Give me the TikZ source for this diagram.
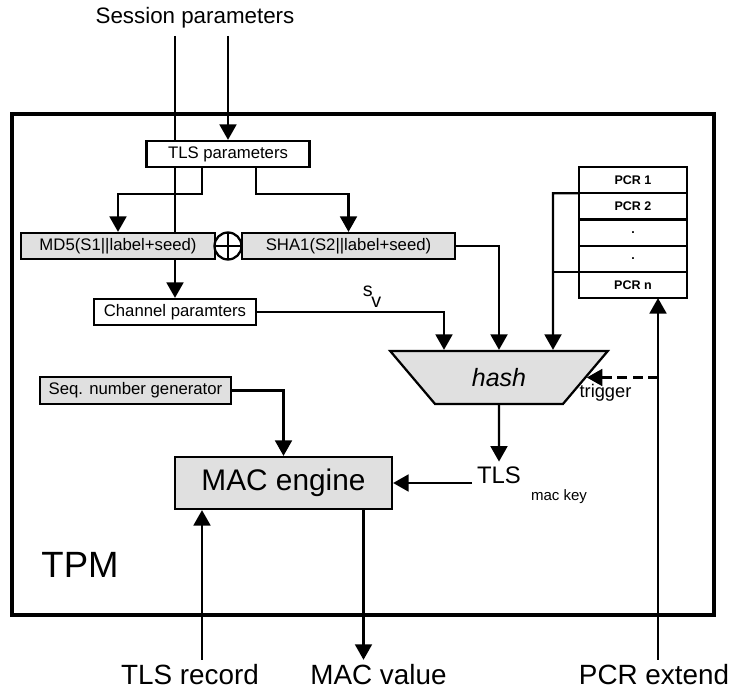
\documentclass[tikz,border=0pt]{standalone}
\usepackage{fontspec}
\setmainfont{Liberation Sans}
\usetikzlibrary{arrows.meta, positioning, shapes.geometric, backgrounds}
\newcommand{\fsz}[1]{\fontsize{#1}{#1}\selectfont}

\begin{document}
\begin{tikzpicture}[
    box/.style={
        draw, line width=1.6pt, minimum height=0.65cm, inner sep=0pt,
        font=\fsz{11.9}
    },
    greybox/.style={box, fill=black!12},
    pcrcell/.style={
        draw, line width=1.6pt, minimum width=2.7cm, minimum height=0.655cm,
        inner sep=0pt, outer sep=0pt, font=\fsz{8.9}\bfseries
    },
    arrow/.style={-{Triangle[length=11pt, width=12pt]}, line width=1.6pt},
    trig/.style={arrow, dash pattern=on 7pt off 4pt},
    big/.style={font=\fsz{19.8}}
]
\useasboundingbox (0,0) rectangle (18.3,17.225);

\node[draw, line width=3.2pt, minimum width=17.55cm, minimum height=12.525cm] (tpm) at (9.075, 8.1125) {};
\node[font=\fsz{26}] (tpmlbl) at (2.0, 3.1) {TPM};

\node[font=\fsz{15.9}] (session) at (4.875, 16.775) {Session parameters};
\coordinate (sp1) at (4.375, 16.325);
\coordinate (sp2) at (5.7, 16.325);

\node[box, fill=white, minimum width=4.075cm] (tlspar) at (5.7, 13.375) {TLS parameters};

\node[greybox, minimum width=4.85cm] (md5) at (2.95, 11.075) {MD5(S1||label+seed)};

\node[circle, draw, line width=1.6pt, fill=white, minimum size=0.675cm, inner sep=0pt,
    path picture={\draw[line width=1.6pt]
        (path picture bounding box.north) -- (path picture bounding box.south)
        (path picture bounding box.west) -- (path picture bounding box.east);}] (xor) at (5.7, 11.075) {};

\node[greybox, minimum width=5.325cm] (sha1) at (8.7125, 11.075) {SHA1(S2||label+seed)};

\node[box, fill=white, minimum width=4.05cm] (channel) at (4.375, 9.425) {Channel paramters};

\node[font=\fsz{14}] (sv) at (9.3, 9.81) {s\kern-1pt\raisebox{-8pt}{v}};

% PCR table
\node[pcrcell] (pcr1) at (15.825, 12.72) {PCR 1};
\node[pcrcell, below=0pt of pcr1] (pcr2) {PCR 2};
\node[pcrcell, below=0pt of pcr2] (pcr3) {.};
\node[pcrcell, below=0pt of pcr3] (pcr4) {.};
\node[pcrcell, below=0pt of pcr4] (pcrn) {PCR n};

\node[trapezium, trapezium left angle=136, trapezium right angle=136, trapezium stretches=true,
    draw, line width=1.6pt, fill=black!12, minimum width=5.45cm, minimum height=1.325cm,
    inner sep=0pt, font=\fsz{17.8}\itshape] (hash) at (12.475, 7.7875) {hash};
\node[font=\fsz{13}] (trigger) at (15.1375, 7.4) {trigger};

\node[greybox, minimum width=4.775cm, minimum height=0.675cm] (seq) at (3.3875, 7.4625) {Seq. number generator};

\node[greybox, minimum width=5.425cm, minimum height=1.3cm, font=\fsz{21.2}] (mac) at (7.0875, 5.15) {MAC engine};

\node[font=\fsz{17}] (tls) at (12.475, 5.35) {TLS};
\node[font=\fsz{10.7}] (mackey) at (13.975, 4.8) {mac key};

\node[big] (tlsrec) at (4.75, 0.35) {TLS record};
\node[big] (macval) at (9.4625, 0.35) {MAC value};
\node[big] (pcrext) at (16.35, 0.35) {PCR extend};

% connectors
\begin{scope}[on background layer]
\draw[arrow] (sp1) -- (channel.north);
\end{scope}
\draw[arrow] (sp2) -- (tlspar.north);
\draw[arrow] ([xshift=-0.65cm]tlspar.south) -- ++(0,-0.65) -| (md5.north);
\draw[arrow] ([xshift=0.7cm]tlspar.south) -- ++(0,-0.65) -| (sha1.north);
\draw[arrow] (channel.east) -| ([xshift=-1.375cm]hash.north);
\draw[arrow] (sha1.east) -| (hash.north);
\draw[arrow] (pcr2.north west) -- ++(-0.65,0) -- ([xshift=1.35cm]hash.north);
\draw[line width=1.6pt] (pcrn.north west) -- ++(-0.65,0);
\draw[trig] ([xshift=0.1cm]pcrext.north |- hash.east) -- (hash.east);
\draw[arrow] ([xshift=0.1cm]pcrext.north) -- ([xshift=0.1cm]pcrext.north |- pcrn.south);
\draw[arrow] (hash.south) -- (tls.north);
\draw[arrow] (tls.west |- mac.east) -- (mac.east);
\draw[arrow] (seq.east) -| (mac.north);
\draw[arrow] ([xshift=0.3cm]tlsrec.north) -- ([xshift=0.3cm]tlsrec.north |- mac.south);
\draw[arrow] ([xshift=2.0cm]mac.south) -- ([xshift=2.0cm]mac.south |- macval.north);

\end{tikzpicture}
\end{document}
